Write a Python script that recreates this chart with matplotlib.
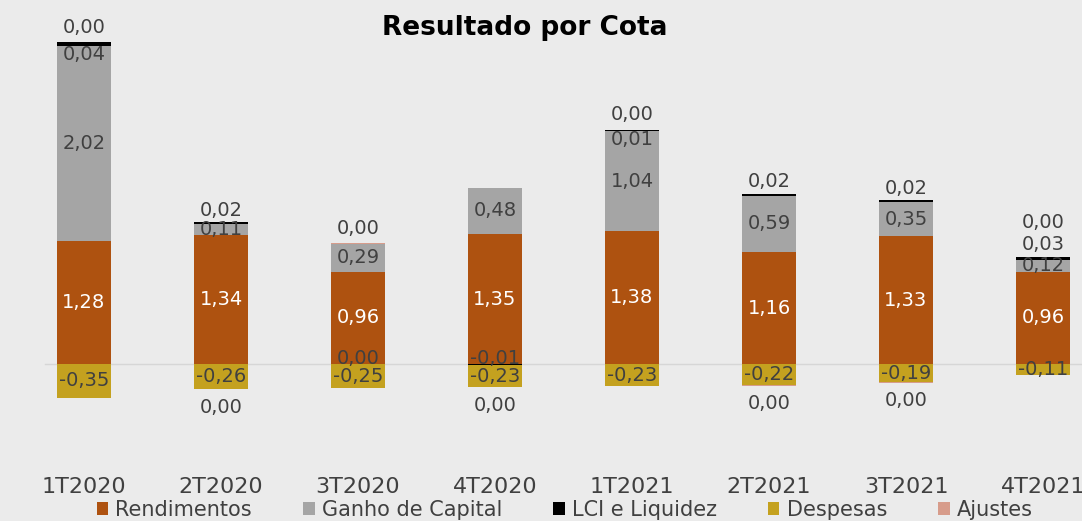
import matplotlib.pyplot as plt
from matplotlib.patches import Patch
import numpy as np

# dados do grafico "Resultado por Cota"
trimestres = ['1T2020', '2T2020', '3T2020', '4T2020', '1T2021', '2T2021', '3T2021', '4T2021']
rendimentos = [1.28, 1.34, 0.96, 1.35, 1.38, 1.16, 1.33, 0.96]
ganho_capital = [2.02, 0.11, 0.29, 0.48, 1.04, 0.59, 0.35, 0.12]
lci_liquidez = [0.04, 0.02, -0.003, -0.01, 0.01, 0.02, 0.02, 0.03]
despesas = [-0.35, -0.26, -0.25, -0.23, -0.23, -0.22, -0.19, -0.11]
ajustes = [0.003, -0.003, 0.003, -0.003, 0.003, -0.003, -0.003, 0.003]

series = [
    ('Rendimentos', rendimentos, '#AE5210'),
    ('Ganho de Capital', ganho_capital, '#A5A5A5'),
    ('LCI e Liquidez', lci_liquidez, '#000000'),
    ('Despesas', despesas, '#C4A11F'),
    ('Ajustes', ajustes, '#D79C8B'),
]

BG = '#EBEBEB'
TXT = '#404040'
FS = 14


def fmt(v):
    if round(v, 2) == 0:
        return '0,00'
    return f'{v:.2f}'.replace('.', ',')


fig = plt.figure(figsize=(10.82, 5.21), dpi=100, facecolor=BG)
# eixo mais largo que a figura (ultima barra cortada como no original)
ax = fig.add_axes([15.5 / 1082, 51 / 521, 1096 / 1082, 470 / 521])
ax.set_facecolor(BG)

x = np.arange(len(trimestres))
width = 0.4
pos_base = np.zeros(len(x))
neg_base = np.zeros(len(x))
lci_above = [False] * len(x)

for name, vals, color in series:
    vals = np.array(vals)
    bottoms = np.where(vals >= 0, pos_base, neg_base)
    ax.bar(x, vals, width, bottom=bottoms, color=color, zorder=3)
    for i, v in enumerate(vals):
        center = bottoms[i] + v / 2
        end = bottoms[i] + v
        if name == 'Ajustes':
            if v >= 0:
                dy = 18 if lci_above[i] else 4
                ax.annotate(fmt(v), (x[i], end), xytext=(0, dy),
                            textcoords='offset points', ha='center', va='bottom',
                            fontsize=FS, color=TXT, zorder=5)
            else:
                ax.annotate(fmt(v), (x[i], end), xytext=(0, -6),
                            textcoords='offset points', ha='center', va='top',
                            fontsize=FS, color=TXT, zorder=5)
        elif name == 'LCI e Liquidez':
            if v < 0:
                # rotulo logo acima da linha do zero
                ax.annotate(fmt(v), (x[i], 0), xytext=(0, -3),
                            textcoords='offset points', ha='center', va='bottom',
                            fontsize=FS, color=TXT, zorder=5)
            elif ajustes[i] < 0 or ganho_capital[i] < 0.2:
                # rotulo acima da barra
                lci_above[i] = True
                ax.annotate(fmt(v), (x[i], end), xytext=(0, 2),
                            textcoords='offset points', ha='center', va='bottom',
                            fontsize=FS, color=TXT, zorder=5)
            else:
                ax.annotate(fmt(v), (x[i], bottoms[i]), xytext=(0, 1),
                            textcoords='offset points', ha='center', va='top',
                            fontsize=FS, color=TXT, zorder=5)
        else:
            c = 'white' if name == 'Rendimentos' else TXT
            ax.text(x[i], center, fmt(v), ha='center', va='center',
                    fontsize=FS, color=c, zorder=5)
    pos_base = pos_base + np.where(vals >= 0, vals, 0)
    neg_base = neg_base + np.where(vals < 0, vals, 0)

ax.axhline(0, xmin=0.027, xmax=1, color='#D6D6D6', lw=1, zorder=2)

ax.set_xlim(-0.5, 7.5)
ax.set_ylim(-1.1, 3.78)
ax.set_xticks(x)
ax.set_xticklabels(trimestres, fontsize=16, color=TXT)
ax.tick_params(axis='x', length=0, pad=5)
ax.set_yticks([])
for s in ax.spines.values():
    s.set_visible(False)

fig.text(0.485, 0.946, 'Resultado por Cota', ha='center', va='center',
         fontsize=19, fontweight='bold', color='black')

handles = [Patch(facecolor=c, label=n) for n, _, c in series]
fig.legend(handles=handles, loc='center', bbox_to_anchor=(0.522, 0.021), ncol=5,
           frameon=False, handlelength=0.55, handleheight=0.55,
           handletextpad=0.35, columnspacing=2.45, labelcolor=TXT,
           prop={'size': 15})

fig.savefig('out.png', dpi=100, facecolor=BG)
